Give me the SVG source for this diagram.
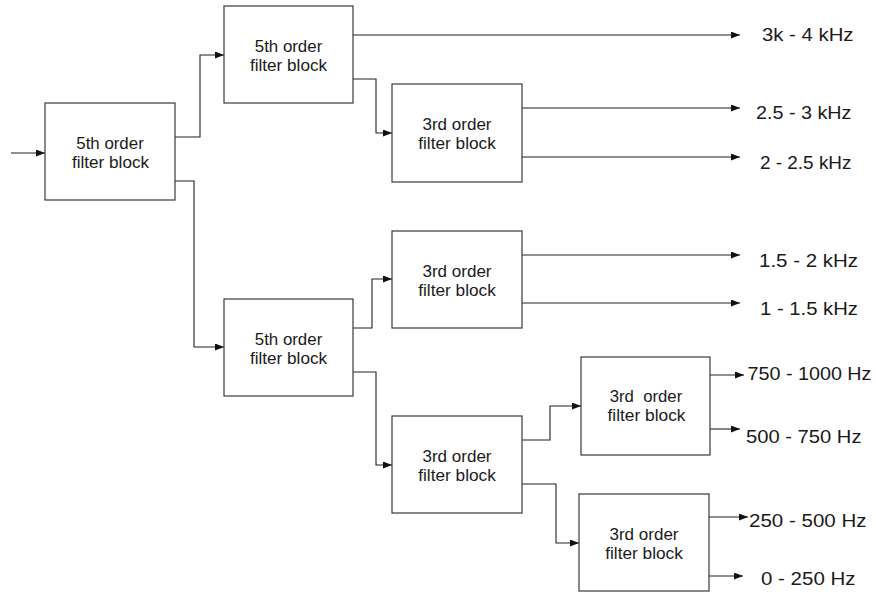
<svg xmlns="http://www.w3.org/2000/svg" width="876" height="595" viewBox="0 0 876 595">
<style>
.box{fill:#fff;stroke:#3a3a3a;stroke-width:1.2}
.bt{font-family:"Liberation Sans",Arial,sans-serif;font-size:16px;fill:#1a1a1a;text-anchor:middle}
.lb{font-family:"Liberation Sans",Arial,sans-serif;font-size:19px;fill:#1a1a1a}
.c{fill:none;stroke:#222;stroke-width:1.1;marker-end:url(#ah)}
</style>
<defs>
<marker id="ah" markerUnits="userSpaceOnUse" markerWidth="10" markerHeight="8" refX="9" refY="3.5" orient="auto">
<path d="M0,0 L9,3.5 L0,7 z" fill="#111"/>
</marker>
</defs>
<rect width="876" height="595" fill="#fff"/>
<g id="connectors">
<path class="c" d="M11,153 H45"/>
<path class="c" d="M175,137 H200 V55 H224"/>
<path class="c" d="M175,181 H194 V347 H224"/>
<path class="c" d="M353,35 H740"/>
<path class="c" d="M353,79 H376 V133 H392"/>
<path class="c" d="M522,108 H740"/>
<path class="c" d="M522,157 H740"/>
<path class="c" d="M353,328 H372 V279 H392"/>
<path class="c" d="M522,255 H740"/>
<path class="c" d="M522,303 H740"/>
<path class="c" d="M353,372 H376 V465 H392"/>
<path class="c" d="M522,440 H550 V406 H581"/>
<path class="c" d="M522,484 H556 V543 H579"/>
<path class="c" d="M710,375 H744"/>
<path class="c" d="M710,429 H740"/>
<path class="c" d="M709,517 H748"/>
<path class="c" d="M709,576 H743"/>
</g>
<g id="nodeA"><rect class="box" x="45" y="103" width="130" height="97"/>
<text class="bt" x="110" y="149" textLength="67.5" lengthAdjust="spacingAndGlyphs">5th order</text>
<text class="bt" x="110.5" y="168" textLength="77" lengthAdjust="spacingAndGlyphs">filter block</text></g>
<g id="nodeB"><rect class="box" x="224" y="6" width="129" height="97"/>
<text class="bt" x="288.5" y="51.5" textLength="67.5" lengthAdjust="spacingAndGlyphs">5th order</text>
<text class="bt" x="288.5" y="70.5" textLength="77" lengthAdjust="spacingAndGlyphs">filter block</text></g>
<g id="nodeC"><rect class="box" x="392" y="84" width="130" height="98"/>
<text class="bt" x="457" y="130" textLength="69" lengthAdjust="spacingAndGlyphs">3rd order</text>
<text class="bt" x="457" y="149" textLength="77.5" lengthAdjust="spacingAndGlyphs">filter block</text></g>
<g id="nodeD"><rect class="box" x="224" y="299" width="129" height="97"/>
<text class="bt" x="288.5" y="344.5" textLength="67.5" lengthAdjust="spacingAndGlyphs">5th order</text>
<text class="bt" x="288.5" y="363.5" textLength="77" lengthAdjust="spacingAndGlyphs">filter block</text></g>
<g id="nodeE"><rect class="box" x="392" y="231" width="130" height="97"/>
<text class="bt" x="457" y="276.5" textLength="69" lengthAdjust="spacingAndGlyphs">3rd order</text>
<text class="bt" x="457" y="295.5" textLength="77.5" lengthAdjust="spacingAndGlyphs">filter block</text></g>
<g id="nodeF"><rect class="box" x="392" y="416" width="130" height="97"/>
<text class="bt" x="457" y="461.5" textLength="69" lengthAdjust="spacingAndGlyphs">3rd order</text>
<text class="bt" x="457" y="480.5" textLength="77.5" lengthAdjust="spacingAndGlyphs">filter block</text></g>
<g id="nodeG"><rect class="box" x="581" y="357" width="129" height="98"/>
<text class="bt" x="646" y="401.5" textLength="72.5" lengthAdjust="spacingAndGlyphs" xml:space="preserve">3rd  order</text>
<text class="bt" x="646.5" y="420.5" textLength="78" lengthAdjust="spacingAndGlyphs">filter block</text></g>
<g id="nodeH"><rect class="box" x="579" y="494" width="130" height="97"/>
<text class="bt" x="644" y="539.5" textLength="69" lengthAdjust="spacingAndGlyphs">3rd order</text>
<text class="bt" x="644" y="558.5" textLength="77.5" lengthAdjust="spacingAndGlyphs">filter block</text></g>
<g id="labels">
<text class="lb" x="762" y="40.5" textLength="91.5" lengthAdjust="spacingAndGlyphs">3k - 4 kHz</text>
<text class="lb" x="756" y="118.5" textLength="95.5" lengthAdjust="spacingAndGlyphs">2.5 - 3 kHz</text>
<text class="lb" x="760" y="168.5" textLength="91.5" lengthAdjust="spacingAndGlyphs">2 - 2.5 kHz</text>
<text class="lb" x="759" y="266.5" textLength="99" lengthAdjust="spacingAndGlyphs">1.5 - 2 kHz</text>
<text class="lb" x="760" y="314.5" textLength="98" lengthAdjust="spacingAndGlyphs">1 - 1.5 kHz</text>
<text class="lb" x="747.5" y="379.5" textLength="124" lengthAdjust="spacingAndGlyphs">750 - 1000 Hz</text>
<text class="lb" x="746" y="442.5" textLength="115.5" lengthAdjust="spacingAndGlyphs">500 - 750 Hz</text>
<text class="lb" x="749" y="526.5" textLength="117.5" lengthAdjust="spacingAndGlyphs">250 - 500 Hz</text>
<text class="lb" x="761" y="584.5" textLength="94.5" lengthAdjust="spacingAndGlyphs">0 - 250 Hz</text>
</g>
</svg>
